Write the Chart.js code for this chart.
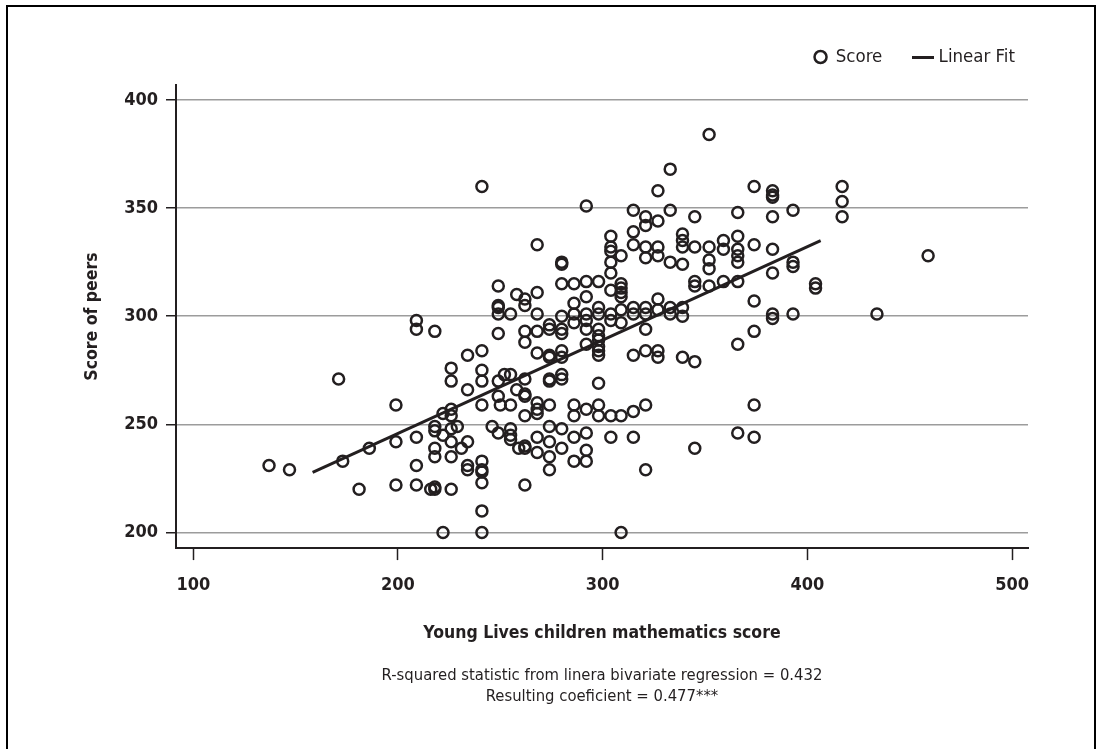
<!DOCTYPE html>
<html>
<head>
<meta charset="utf-8">
<script src="https://cdn.jsdelivr.net/npm/chart.js@4.4.0/dist/chart.umd.min.js"></script>
<style>
  html, body { margin: 0; padding: 0; background: #fff; overflow: hidden; }
  #wrap { position: relative; width: 1096px; height: 749px; }
  #frame { position: absolute; left: 6px; top: 5px; width: 1090px; height: 780px; box-sizing: border-box;
           border: 2px solid #000; border-bottom: none; pointer-events: none; }
</style>
</head>
<body>
<div id="wrap">
  <canvas id="myChart" width="1096" height="749"></canvas>
  <div id="frame"></div>
</div>
<script>
// children's maths score (x) vs score of peers (y)
const scoreX = [
  209, 209, 218, 234, 226, 171, 226, 234, 199, 222, 226, 226, 218, 218, 222, 226, 229, 209, 199, 234,
  226, 186, 231, 218, 218, 226, 173, 209, 234, 234, 137, 147, 181, 199, 209, 216, 218, 218, 226, 222,
  241, 352, 333, 327, 374, 292, 315, 333, 321, 321, 327, 345, 366, 315, 304, 304, 304, 309, 304, 304,
  315, 321, 321, 327, 327, 339, 339, 339, 345, 352, 352, 352, 359, 359, 366, 366, 366, 366, 374, 333,
  339, 268, 280, 280, 249, 258, 262, 268, 280, 286, 292, 298, 292, 304, 309, 309, 309, 309, 327, 345,
  345, 352, 359, 366, 383, 383, 383, 383, 383, 393, 417, 417, 417, 383, 393, 393, 404, 404, 459, 374,
  383, 383, 393, 434, 374, 374, 374, 366, 366,
  249, 249, 249, 255, 262, 268, 249, 262, 262, 268, 274, 274, 280, 280, 280, 286, 286, 286, 292, 292,
  292, 298, 298, 298, 298, 304, 304, 309, 309, 315, 315, 321, 321, 321, 327, 333, 333, 339, 339, 241,
  241, 241, 249, 252, 255, 258, 262, 262, 262, 268, 274, 274, 274, 274, 280, 280, 280, 280, 292, 298,
  298, 298, 298, 298, 315, 321, 327, 327, 339, 345, 241, 249, 250, 255, 262, 268, 268, 268, 274, 286,
  286, 292, 298, 298, 304, 309, 315, 321, 246, 249, 255, 255, 255, 259, 262, 262, 268, 268, 274, 274,
  274, 274, 280, 280, 286, 286, 292, 292, 292, 304, 315, 321, 345, 241, 241, 241, 241, 262, 241, 241,
  309
];
const scoreY = [
  298, 294, 293, 282, 276, 271, 270, 266, 259, 255, 257, 254, 249, 247, 245, 248, 249, 244, 242, 242,
  242, 239, 239, 239, 235, 235, 233, 231, 231, 229, 231, 229, 220, 222, 222, 220, 221, 220, 220, 200,
  360, 384, 368, 358, 360, 351, 349, 349, 346, 342, 344, 346, 348, 339, 337, 332, 330, 328, 325, 320,
  333, 332, 327, 332, 328, 338, 335, 332, 332, 332, 326, 322, 335, 331, 337, 331, 328, 325, 333, 325,
  324, 333, 325, 324, 314, 310, 308, 311, 315, 315, 316, 316, 309, 312, 315, 313, 311, 309, 308, 316,
  314, 314, 316, 316, 320, 358, 356, 355, 346, 349, 360, 353, 346, 331, 325, 323, 315, 313, 328, 307,
  301, 299, 301, 301, 293, 259, 244, 287, 246,
  305, 304, 301, 301, 305, 301, 292, 293, 288, 293, 296, 294, 300, 294, 292, 306, 301, 297, 301, 298,
  294, 304, 301, 294, 291, 301, 298, 303, 297, 304, 301, 304, 301, 294, 303, 304, 301, 304, 300, 284,
  275, 270, 270, 273, 273, 266, 271, 264, 263, 283, 282, 281, 271, 270, 284, 281, 273, 271, 287, 289,
  286, 284, 282, 269, 282, 284, 284, 281, 281, 279, 259, 263, 259, 259, 254, 260, 257, 255, 259, 259,
  254, 257, 259, 254, 254, 254, 256, 259, 249, 246, 248, 245, 243, 239, 240, 239, 244, 237, 249, 242,
  235, 229, 248, 239, 244, 233, 246, 238, 233, 244, 244, 229, 239, 233, 229, 228, 223, 222, 210, 200,
  200
];

// fitted line, start and end as drawn
const fitX = [158.3, 406.5];
const fitY = [227.8, 334.9];

const xTicks = [100, 200, 300, 400, 500];
const yTicks = [200, 250, 300, 350, 400];

const ink = '#231f20';
const FONT = "'DejaVu Sans Condensed', 'Liberation Sans Narrow', 'Arial Narrow', sans-serif";
Chart.defaults.font.family = FONT;
Chart.defaults.color = ink;

const scorePoints = scoreX.map((x, i) => ({ x: x, y: scoreY[i] }));
const fitPoints = fitX.map((x, i) => ({ x: x, y: fitY[i] }));

// legend mark for the fit line
const lineIcon = document.createElement('canvas');
lineIcon.width = 22;
lineIcon.height = 3;
const lctx = lineIcon.getContext('2d');
lctx.fillStyle = ink;
lctx.fillRect(0, 0, 22, 3);

// legend sits higher and further right than the layout puts it,
// the note under the axis title is centred on the plot, not the canvas
const boxShift = {
  id: 'boxShift',
  afterLayout(chart) {
    chart.legend.top -= 8.75;
    chart.legend.right += 22;
    const note = chart.boxes.find(b => b.options && Array.isArray(b.options.text));
    if (note) {
      note.left = chart.chartArea.left;
      note.right = chart.chartArea.right;
    }
  }
};

new Chart(document.getElementById('myChart'), {
  type: 'scatter',
  data: {
    datasets: [
      {
        label: 'Score',
        data: scorePoints,
        pointStyle: 'circle',
        pointRadius: 5.5,
        pointHoverRadius: 5.5,
        pointBorderWidth: 2.5,
        borderColor: ink,
        backgroundColor: 'rgba(0,0,0,0)'
      },
      {
        type: 'line',
        label: 'Linear Fit',
        data: fitPoints,
        borderColor: ink,
        backgroundColor: ink,
        borderWidth: 3,
        pointRadius: 0,
        pointStyle: lineIcon,
        fill: false
      }
    ]
  },
  options: {
    responsive: false,
    animation: false,
    devicePixelRatio: 1,
    layout: { padding: { top: 21.5, left: 0, right: 68, bottom: 41.5 } },
    plugins: {
      legend: {
        position: 'top',
        align: 'end',
        labels: {
          usePointStyle: true,
          boxWidth: 12,
          boxHeight: 8.5,
          padding: 35,
          color: ink,
          font: { size: 18.5 }
        }
      },
      subtitle: {
        display: true,
        position: 'bottom',
        text: ['R-squared statistic from linera bivariate regression = 0.432', 'Resulting coeficient = 0.477***'],
        color: ink,
        font: { size: 16.5, lineHeight: 1.27 },
        padding: { top: 22, bottom: 0 }
      },
      tooltip: { enabled: false }
    },
    scales: {
      x: {
        type: 'linear',
        min: 91.55,
        max: 507.8,
        afterBuildTicks: s => { s.ticks = xTicks.map(v => ({ value: v })); },
        afterFit: s => { s.height = 95.5; },
        grid: { drawOnChartArea: false, drawTicks: true, tickLength: 12, tickColor: ink, tickWidth: 1.5 },
        border: { display: true, color: ink, width: 2 },
        ticks: { color: ink, padding: 14.2, font: { size: 18, weight: 'bold', lineHeight: 1.2 } },
        title: {
          display: true,
          text: 'Young Lives children mathematics score',
          color: ink,
          font: { size: 17.5, weight: 'bold', lineHeight: 1.2 },
          padding: 0
        }
      },
      y: {
        type: 'linear',
        min: 192.8,
        max: 406.9,
        afterBuildTicks: s => { s.ticks = yTicks.map(v => ({ value: v })); },
        afterFit: s => { s.width = 176; },
        grid: { color: '#9c9c9c', lineWidth: 1.5, tickLength: 10, tickColor: ink, tickWidth: 1.5 },
        border: { display: true, color: ink, width: 2 },
        ticks: { color: ink, padding: 8, font: { size: 18, weight: 'bold', lineHeight: 1.2 } },
        title: {
          display: true,
          text: 'Score of peers',
          color: ink,
          font: { size: 17.5, weight: 'bold', lineHeight: 1.2 },
          padding: { top: 81.5, bottom: 0 }
        }
      }
    }
  },
  plugins: [boxShift]
});
</script>
</body>
</html>
